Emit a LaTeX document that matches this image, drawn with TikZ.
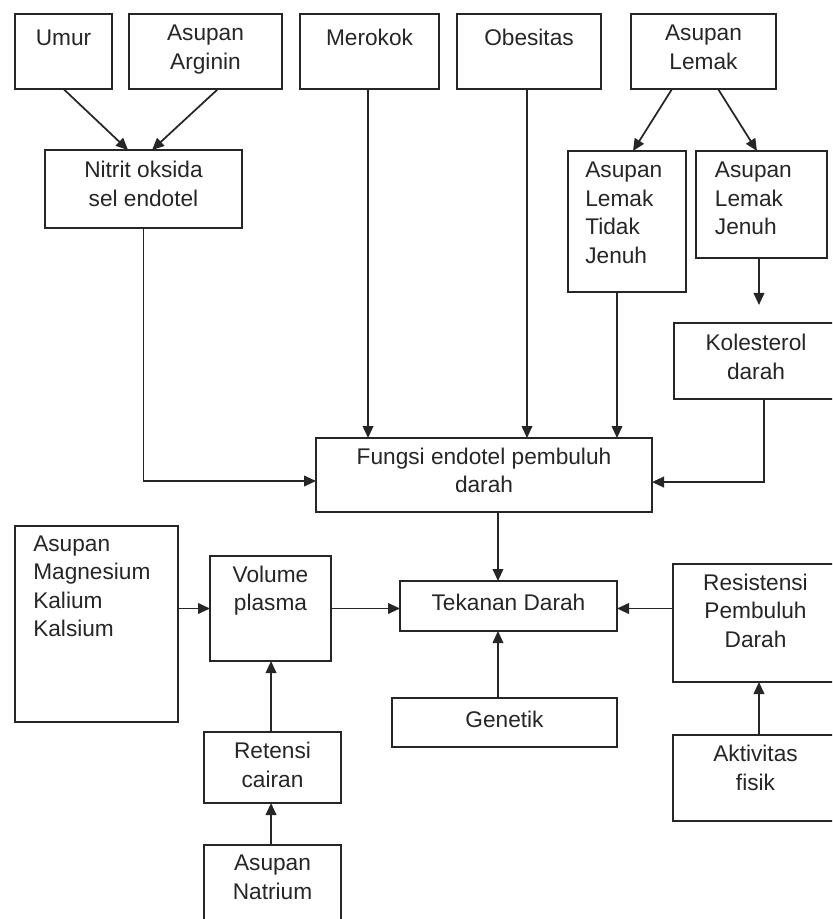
\documentclass[tikz,border=0pt]{standalone}
\usepackage{fontspec}
\setmainfont{Liberation Sans}
\usetikzlibrary{arrows.meta,calc}
\definecolor{ink}{gray}{0.15}

% A box given by its corner pixels: name, x1, y1, x2, y2
\newcommand\pxbox[5]{%
  \node[boxshape, minimum width={(#4-#2)*0.75pt}, minimum height={(#5-#3)*0.75pt}]
    (#1) at ({(#2+#4)/2},{(#3+#5)/2}) {};}

\begin{document}
\begin{tikzpicture}[x=0.75pt, y=-0.75pt,
  boxshape/.style={draw=ink, line width=1.3pt, rectangle, inner sep=0pt, outer sep=0pt, fill=none},
  lbl/.style={inner sep=0pt, text=ink, font=\fontsize{17}{21.4}\selectfont,
    execute at begin node=\strut},
  ctr/.style={lbl, anchor=north, align=center},
  lft/.style={lbl, anchor=north west, align=left},
  arr/.style={draw=ink, line width=1.3pt, -{Triangle[length=9pt, width=8pt]}}]

\useasboundingbox (0,0) rectangle (832,919);
\clip (0,0) rectangle (832,919);
\fill[white] (0,0) rectangle (832,919);

% boxes
\pxbox{umur}{15}{14}{112}{89}
\pxbox{arginin}{129}{14}{282}{89}
\pxbox{merokok}{300}{14}{439}{89}
\pxbox{obesitas}{457}{14}{601}{89}
\pxbox{lemak}{631}{14}{776}{89}
\pxbox{nitrit}{45}{150}{242}{228}
\pxbox{tdkjenuh}{568}{151}{686}{292}
\pxbox{jenuh}{696}{151}{827}{258}
\pxbox{kolesterol}{674}{323}{838}{399}
\pxbox{fungsi}{316}{438}{652}{512}
\pxbox{mineral}{15}{526}{178}{722}
\pxbox{volume}{210}{556}{331}{661}
\pxbox{tekanan}{400}{581}{617}{631}
\pxbox{resistensi}{673}{564}{838}{682}
\pxbox{genetik}{392}{698}{617}{747}
\pxbox{retensi}{204}{732}{341}{803}
\pxbox{aktivitas}{673}{735}{838}{821}
\pxbox{natrium}{204}{845}{341}{935}

% labels
\node[ctr] (umur-t) at ([yshift=-8.3pt]umur.north) {Umur};
\node[ctr] (arginin-t) at ([yshift=-8.3pt]arginin.north) {Asupan\\Arginin};
\node[ctr] (merokok-t) at ([yshift=-8.3pt]merokok.north) {Merokok};
\node[ctr] (obesitas-t) at ([yshift=-8.3pt]obesitas.north) {Obesitas};
\node[ctr] (lemak-t) at ([yshift=-8.3pt]lemak.north) {Asupan\\Lemak};
\node[ctr] (nitrit-t) at ([yshift=-8.3pt]nitrit.north) {Nitrit oksida\\sel endotel};
\node[lft] (tdkjenuh-t) at ([xshift=12.8pt,yshift=-8.3pt]tdkjenuh.north west) {Asupan\\Lemak\\Tidak\\Jenuh};
\node[lft] (jenuh-t) at ([xshift=14pt,yshift=-8.3pt]jenuh.north west) {Asupan\\Lemak\\Jenuh};
\node[ctr] (kolesterol-t) at ([yshift=-8.3pt]kolesterol.north) {Kolesterol\\darah};
\node[ctr] (fungsi-t) at ([yshift=-7pt]fungsi.north) {Fungsi endotel pembuluh\\darah};
\node[lft] (mineral-t) at ([xshift=13.5pt,yshift=-7pt]mineral.north west) {Asupan\\Magnesium\\Kalium\\Kalsium};
\node[ctr] (volume-t) at ([yshift=-7pt]volume.north) {Volume\\plasma};
\node[ctr] (tekanan-t) at ([yshift=-7pt]tekanan.north) {Tekanan Darah};
\node[ctr] (resistensi-t) at ([yshift=-7pt]resistensi.north) {Resistensi\\Pembuluh\\Darah};
\node[ctr] (genetik-t) at ([yshift=-7pt]genetik.north) {Genetik};
\node[ctr] (retensi-t) at ([yshift=-7.5pt]retensi.north) {Retensi\\cairan};
\node[ctr] (aktivitas-t) at ([yshift=-7.5pt]aktivitas.north) {Aktivitas\\fisik};
\node[ctr] (natrium-t) at ([yshift=-7.5pt]natrium.north) {Asupan\\Natrium};

% connectors
\draw[arr] (umur.south) -- ([xshift=-11.6pt]nitrit.north);
\draw[arr] ([xshift=9.4pt]arginin.south) -- ([xshift=6.4pt]nitrit.north);
\draw[arr] (nitrit.south) |- ([yshift=-4.5pt]fungsi.west);
\draw[arr] ([xshift=-1.1pt]merokok.south) -- ([xshift=-1.1pt]merokok.south |- fungsi.north);
\draw[arr] ([xshift=-1.5pt]obesitas.south) -- ([xshift=-1.5pt]obesitas.south |- fungsi.north);
\draw[arr] ([xshift=-23.6pt]lemak.south) -- ([xshift=4.5pt]tdkjenuh.north);
\draw[arr] ([xshift=10.9pt]lemak.south) -- ([xshift=-3.4pt]jenuh.north);
\draw[arr] ([xshift=-7.5pt]tdkjenuh.south) -- ([xshift=-7.5pt]tdkjenuh.south |- fungsi.north);
\draw[arr, shorten >=13.5pt] ([xshift=-1.9pt]jenuh.south) -- ([xshift=-1.9pt]jenuh.south |- kolesterol.north);
\draw[arr] ([xshift=6pt]kolesterol.south) |- ([yshift=-5.3pt]fungsi.east);
\draw[arr] ([xshift=10.5pt]fungsi.south) -- ([xshift=-7.9pt]tekanan.north);
\draw[arr] ([xshift=-4.9pt]genetik.north) -- ([xshift=-7.9pt]tekanan.south);
\draw[arr] (mineral.east |- volume.west) -- (volume.west);
\draw[arr] (volume.east) -- (volume.east -| tekanan.west);
\draw[arr] (resistensi.west |- volume.east) -- (tekanan.east |- volume.east);
\draw[arr] ([xshift=2.6pt]aktivitas.north) -- ([xshift=2.6pt]resistensi.south);
\draw[arr] ([xshift=-1.1pt]retensi.north) -- ([xshift=-1.1pt]retensi.north |- volume.south);
\draw[arr] ([xshift=-1.1pt]natrium.north) -- ([xshift=-1.1pt]natrium.north |- retensi.south);

\end{tikzpicture}
\end{document}
